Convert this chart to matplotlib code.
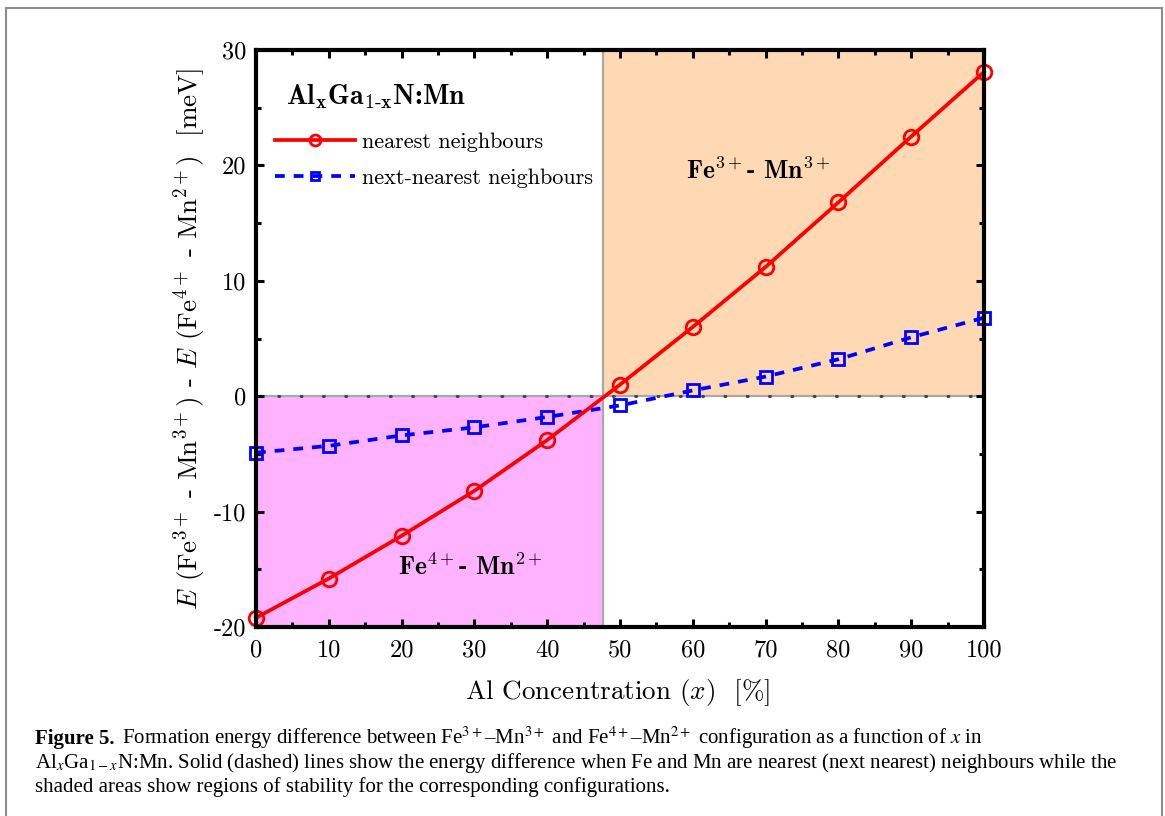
import warnings
import matplotlib
matplotlib.use("Agg")
import matplotlib.pyplot as plt
from matplotlib.patches import Rectangle
from matplotlib.ticker import MultipleLocator, FuncFormatter

warnings.filterwarnings("ignore")

# data
al_conc = [0, 10, 20, 30, 40, 50, 60, 70, 80, 90, 100]
e_nearest = [-19.2, -15.8, -12.1, -8.2, -3.8, 1.0, 6.0, 11.2, 16.8, 22.5, 28.1]
e_next_nearest = [-4.9, -4.3, -3.4, -2.7, -1.8, -0.8, 0.5, 1.7, 3.2, 5.1, 6.8]
x_cross = 47.6  # where the nearest-neighbour curve crosses zero

plt.rcParams['font.family'] = 'cmr10'
plt.rcParams['mathtext.fontset'] = 'cm'
plt.rcParams['axes.unicode_minus'] = False

W, H = 1165, 816
fig = plt.figure(figsize=(W / 100, H / 100), dpi=100)


def fx(px):
    return px / W


def fy(py):
    return 1 - py / H


ax = fig.add_axes([fx(256), fy(627), fx(984) - fx(256), fy(50) - fy(627)])

# shaded stability regions
ax.add_patch(Rectangle((0, -20), x_cross, 20, facecolor='#FFB3FF',
                       edgecolor='#A8A8A8', lw=1.6, zorder=1))
ax.add_patch(Rectangle((x_cross, 0), 100 - x_cross, 30, facecolor='#FED9B3',
                       edgecolor='#A8A8A8', lw=1.6, zorder=1))
ax.axhline(0, color='#444444', lw=2.2, dashes=(0.3, 7), dash_capstyle='round', zorder=2)

ax.plot(al_conc, e_nearest, color='red', lw=2.7, marker='o', ms=10.5, mfc='none',
        mew=2.0, label='nearest neighbours', zorder=4, clip_on=False)
ax.plot(al_conc, e_next_nearest, color='blue', lw=2.7, dashes=(2.6, 2.4), marker='s',
        ms=8.5, mfc='none', mew=2.0, label='next-nearest neighbours', zorder=3,
        clip_on=False)

ax.set_xlim(0, 100)
ax.set_ylim(-20, 30)
ax.xaxis.set_major_locator(MultipleLocator(10))
ax.xaxis.set_minor_locator(MultipleLocator(5))
ax.yaxis.set_major_locator(MultipleLocator(10))
ax.yaxis.set_minor_locator(MultipleLocator(5))
ax.xaxis.set_major_formatter(FuncFormatter(lambda v, p: '%d' % v))
ax.yaxis.set_major_formatter(FuncFormatter(lambda v, p: '%d' % v))
ax.tick_params(which='both', direction='in', top=True, right=True, width=2.2, labelsize=17.5)
ax.tick_params(which='major', length=6)
ax.tick_params(axis='x', which='major', pad=9)
ax.tick_params(axis='y', which='major', pad=7)
ax.tick_params(which='minor', length=3.5)
for s in ax.spines.values():
    s.set_linewidth(3)
    s.set_zorder(5)

ax.text((286 - 256) / 728, (627 - 97) / 577, r'Al$_{\mathbf{x}}$Ga$_{\mathbf{1\text{-}x}}$N:Mn',
        transform=ax.transAxes, fontfamily='cmb10', fontsize=20, va='center', ha='left')
ax.legend(loc='upper left', bbox_to_anchor=((275 - 256) / 728, (627 - 132) / 577),
          frameon=False, fontsize=16, handlelength=3.6, handletextpad=0.3,
          labelspacing=0.75, borderpad=0, borderaxespad=0, markerscale=0.75)

ax.text(69, 19.5, r'Fe$^{3+}$- Mn$^{3+}$', fontfamily='cmb10', fontsize=18.5,
        ha='center', va='center')
ax.text(29.4, -14.8, r'Fe$^{4+}$- Mn$^{2+}$', fontfamily='cmb10', fontsize=18.5,
        ha='center', va='center')

fig.text(fx(618), fy(692), r'Al Concentration ($x$)  [%]', fontsize=19.5,
         ha='center', va='center')
fig.text(fx(190), fy(339),
         r'$E$ (Fe$^{3+}$ - Mn$^{3+}$) - $E$ (Fe$^{4+}$ - Mn$^{2+}$)  [meV]',
         fontsize=19.5, rotation=90, ha='center', va='center')

# caption
cap = dict(fontfamily='Liberation Serif', math_fontfamily='stix', fontsize=15,
           va='baseline')
t1 = fig.text(fx(35), fy(744), 'Figure 5.', fontweight='bold', **cap)
fig.canvas.draw()
bb = t1.get_window_extent()
fig.text(bb.x1 / W + fx(8), fy(744), 'Formation energy difference between Fe$^{3+}$\u2013Mn$^{3+}$ and '
         'Fe$^{4+}$\u2013Mn$^{2+}$ configuration as a function of $x$ in', **cap)
fig.text(fx(35), fy(768), 'Al$_x$Ga$_{1-x}$N:Mn. Solid (dashed) lines show the energy '
         'difference when Fe and Mn are nearest (next nearest) neighbours while the', **cap)
fig.text(fx(35), fy(792), 'shaded areas show regions of stability for the '
         'corresponding configurations.', **cap)

# frame around the figure
fig.add_artist(Rectangle((fx(6), -0.1), fx(1162) - fx(6), fy(8) + 0.1, transform=fig.transFigure,
                         fill=False, edgecolor='#8C8C8C', lw=1.5, clip_on=False))

fig.savefig('out.png', dpi=100)
